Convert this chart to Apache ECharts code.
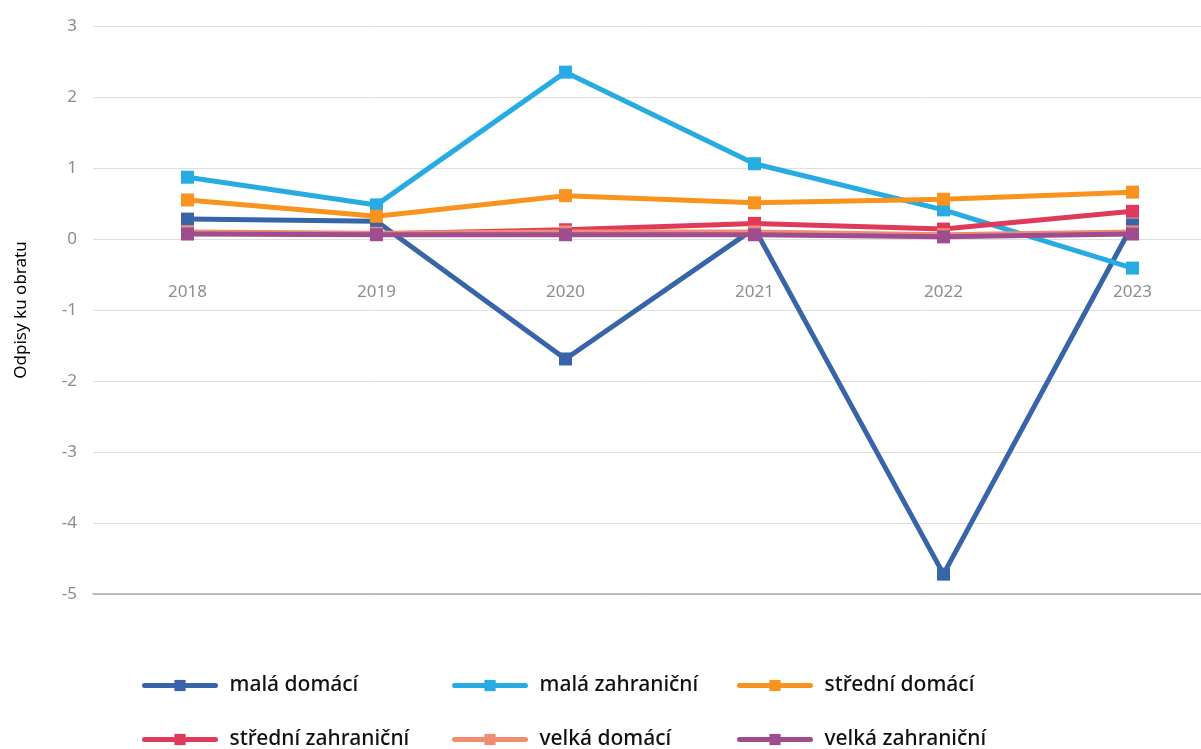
<!DOCTYPE html>
<html>
<head>
<meta charset="utf-8">
<script src="https://cdn.jsdelivr.net/npm/echarts@6/dist/echarts.min.js"></script>
<style>
  html, body { margin: 0; padding: 0; background: #fff; }
  #chart { width: 1201px; height: 749px; }
</style>
</head>
<body>
<div id="chart"></div>
<script>
// roky
const years = ['2018', '2019', '2020', '2021', '2022', '2023'];

// hodnoty
const malaDomaci = [0.28, 0.25, -1.69, 0.15, -4.72, 0.2];
const malaZahranicni = [0.87, 0.48, 2.35, 1.06, 0.41, -0.41];
const stredniDomaci = [0.55, 0.32, 0.61, 0.51, 0.56, 0.66];
const stredniZahranicni = [0.08, 0.07, 0.13, 0.22, 0.14, 0.39];
const velkaDomaci = [0.1, 0.08, 0.1, 0.1, 0.06, 0.1];
const velkaZahranicni = [0.07, 0.06, 0.06, 0.06, 0.03, 0.07];

const seriesNames = ['malá domácí', 'malá zahraniční', 'střední domácí',
  'střední zahraniční', 'velká domácí', 'velká zahraniční'];
const seriesData = [malaDomaci, malaZahranicni, stredniDomaci,
  stredniZahranicni, velkaDomaci, velkaZahranicni];
const colors = ['#3765a8', '#26abe2', '#f7931e', '#e03a5b', '#f08c72', '#a04d8f'];

let myChart = echarts.init(document.getElementById('chart'));

function makeLegend(left, names) {
  return {
    orient: 'vertical',
    left: left,
    top: 675,
    height: 120,
    padding: 0,
    itemWidth: 71,
    itemHeight: 14,
    itemGap: 33,
    data: names,
    lineStyle: { width: 5, cap: 'round' },
    textStyle: {
      fontFamily: 'Noto Sans',
      fontSize: 21,
      fontWeight: 500,
      color: '#111',
      padding: [0, 0, 0, 9],
    },
  };
}

let option = {
  animation: false,
  color: colors,
  grid: {
    left: 93,
    right: -26,
    top: 26,
    bottom: 155,
    outerBoundsMode: 'none',
  },
  legend: [
    makeLegend(142, ['malá domácí', 'střední zahraniční']),
    makeLegend(452, ['malá zahraniční', 'velká domácí']),
    makeLegend(737, ['střední domácí', 'velká zahraniční']),
  ],
  xAxis: {
    type: 'category',
    data: years,
    axisLine: { show: true, onZero: false, lineStyle: { color: '#ababab', width: 1.5 } },
    axisTick: { show: false },
    axisLabel: {
      // popisky sedí těsně pod nulovou osou
      margin: -310,
      color: '#8c8c8c',
      fontSize: 17,
      fontFamily: 'Noto Sans',
    },
  },
  yAxis: {
    type: 'value',
    min: -5,
    max: 3,
    interval: 1,
    name: 'Odpisy ku obratu',
    nameLocation: 'middle',
    nameGap: 63,
    nameTextStyle: {
      color: '#000',
      fontSize: 17,
      fontFamily: 'Noto Sans',
    },
    axisLine: { show: false },
    axisTick: { show: false },
    axisLabel: {
      margin: 16,
      color: '#8c8c8c',
      fontSize: 17,
      fontFamily: 'Noto Sans',
    },
    splitLine: { lineStyle: { color: '#dedede', width: 1 } },
  },
  series: seriesNames.map((name, i) => ({
    name: name,
    type: 'line',
    data: seriesData[i],
    symbol: 'rect',
    symbolSize: 13,
    lineStyle: { width: 5, color: colors[i] },
    itemStyle: { color: colors[i] },
  })),
};

myChart.setOption(option);
</script>
</body>
</html>
